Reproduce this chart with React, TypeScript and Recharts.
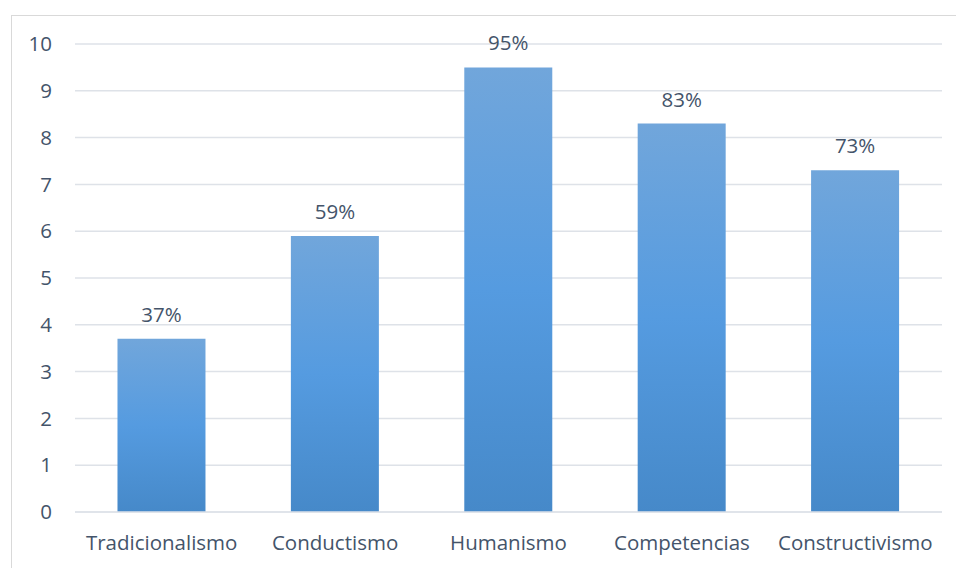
import { BarChart, Bar, XAxis, YAxis, CartesianGrid, LabelList } from 'recharts';

const categories = ['Tradicionalismo', 'Conductismo', 'Humanismo', 'Competencias', 'Constructivismo'];
const values = [3.7, 5.9, 9.5, 8.3, 7.3];
const percentLabels = ['37%', '59%', '95%', '83%', '73%'];
const yTicks = [0, 1, 2, 3, 4, 5, 6, 7, 8, 9, 10];

const data = categories.map((name, i) => ({ name, value: values[i], label: percentLabels[i] }));

const textColor = '#44546a';
const font = '"Open Sans", Lato, sans-serif';
const fontSize = 20.5;

export default function App() {
    return (
        <div style={{ position: 'absolute', left: 0, top: 0, width: 956, height: 568, background: '#fff', overflow: 'hidden' }}>
            {/* chart frame */}
            <div style={{ position: 'absolute', left: 11, top: 15, width: 960, height: 570, borderLeft: '1px solid #d9d9d9', borderTop: '1px solid #d9d9d9' }} />
            <BarChart
                width={956}
                height={568}
                data={data}
                margin={{ top: 44, right: 14, left: 11, bottom: 16 }}
                barCategoryGap="24.5%"
                style={{ position: 'absolute', left: 0, top: 0, fontFamily: font }}
            >
                <defs>
                    <linearGradient id="barFill" x1="0" y1="0" x2="0" y2="1">
                        <stop offset="0%" stopColor="#71a6db" />
                        <stop offset="50%" stopColor="#559be0" />
                        <stop offset="100%" stopColor="#4689c9" />
                    </linearGradient>
                </defs>
                <CartesianGrid vertical={false} stroke="#dee2e8" strokeWidth={1.5} />
                <XAxis
                    dataKey="name"
                    height={40}
                    axisLine={{ stroke: '#dee2e8', strokeWidth: 1.5 }}
                    tickLine={false}
                    tickMargin={17}
                    tick={{ fill: textColor, fontSize, fontFamily: font }}
                    interval={0}
                />
                <YAxis
                    width={64}
                    domain={[0, 10]}
                    ticks={yTicks}
                    axisLine={false}
                    tickLine={false}
                    tickSize={0}
                    tickMargin={23}
                    tick={{ fill: textColor, fontSize, fontFamily: font }}
                />
                <Bar dataKey="value" fill="url(#barFill)" isAnimationActive={false}>
                    <LabelList dataKey="label" position="top" offset={17} fill={textColor} fontSize={fontSize} fontFamily={font} />
                </Bar>
            </BarChart>
        </div>
    );
}
